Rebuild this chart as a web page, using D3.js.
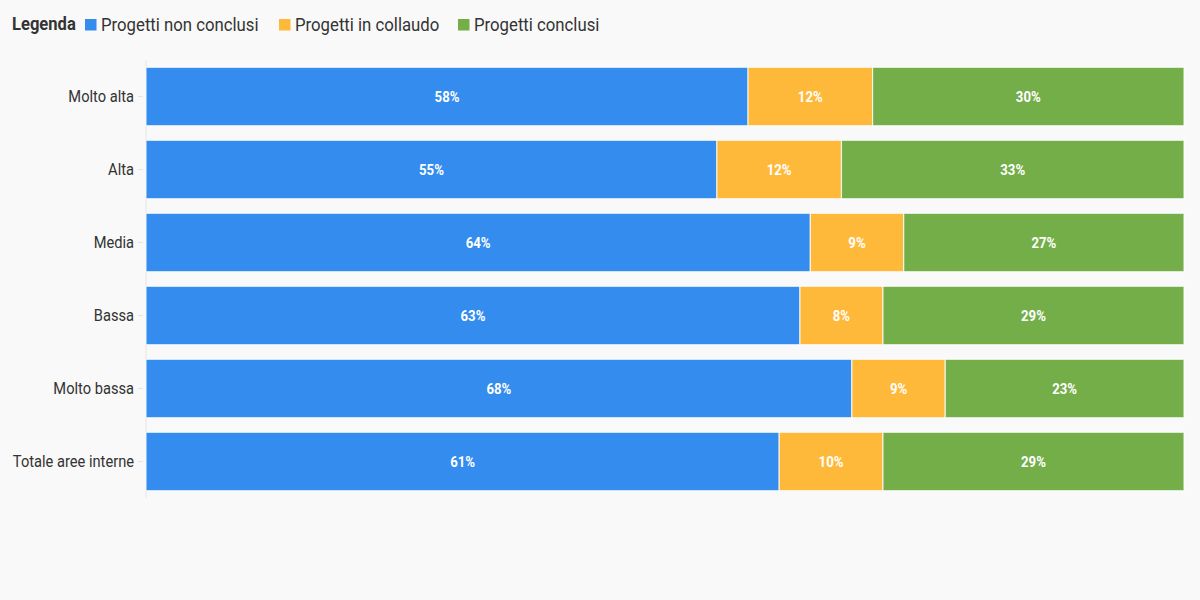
<!DOCTYPE html>
<html>
<head>
<meta charset="utf-8">
<script src="https://cdn.jsdelivr.net/npm/d3@7"></script>
<style>
  html, body { margin: 0; padding: 0; background: #f9f9f9; }
  svg { display: block; font-family: "Roboto", "Liberation Sans Narrow", sans-serif; }
</style>
</head>
<body>
<svg id="chart" width="1200" height="600"></svg>
<script>
const categories = ["Molto alta", "Alta", "Media", "Bassa", "Molto bassa", "Totale aree interne"];
const seriesNames = ["Progetti non conclusi", "Progetti in collaudo", "Progetti conclusi"];
const nonConclusi = [58, 55, 64, 63, 68, 61];
const inCollaudo = [12, 12, 9, 8, 9, 10];
const conclusi = [30, 33, 27, 29, 23, 29];
const colors = ["#338cee", "#ffb93a", "#73ae49"];

const svg = d3.select("#chart");
svg.append("rect").attr("width", 1200).attr("height", 600).attr("fill", "#f9f9f9");

// emulate a condensed face by squeezing glyphs horizontally
function condense(sel, f) {
  sel.each(function () {
    const w = this.getComputedTextLength();
    d3.select(this).attr("textLength", w * f).attr("lengthAdjust", "spacingAndGlyphs");
  });
}

const rows = categories.map((c, i) => ({
  cat: c, s0: nonConclusi[i], s1: inCollaudo[i], s2: conclusi[i]
}));
const stack = d3.stack().keys(["s0", "s1", "s2"])(rows);

const x = d3.scaleLinear().domain([0, 100]).range([146, 1184]);
const y = d3.scaleBand().domain(categories).range([60, 498]).paddingInner(0.2).paddingOuter(0.1);

// y axis
const yAxis = d3.axisLeft(y).tickSize(8).tickPadding(4);
const ga = svg.append("g").attr("transform", "translate(146,0)").call(yAxis);
ga.select(".domain").attr("stroke", "#e6e6e6").attr("d", "M0,60V498");
ga.selectAll(".tick line").attr("stroke", "#e6e6e6").attr("x1", -3).attr("x2", -8);
ga.selectAll(".tick text").attr("fill", "#333").attr("font-size", 16.3).attr("font-family", "Roboto")
  .attr("dy", "0.33em").call(condense, 0.9);

// bars
const layers = svg.append("g").selectAll("g").data(stack).join("g").attr("fill", (d, i) => colors[i]);
layers.selectAll("rect").data(d => d).join("rect")
  .attr("x", d => x(d[0]))
  .attr("y", d => y(d.data.cat))
  .attr("width", d => x(d[1]) - x(d[0]))
  .attr("height", y.bandwidth())
  .attr("stroke", "rgba(255,255,255,0.75)")
  .attr("stroke-width", 1.2);

// labels
const lab = svg.append("g");
stack.forEach(layer => {
  layer.forEach(d => {
    lab.append("text")
      .attr("x", (x(d[0]) + x(d[1])) / 2)
      .attr("y", y(d.data.cat) + y.bandwidth() / 2)
      .attr("dy", "0.36em")
      .attr("text-anchor", "middle")
      .attr("fill", "#fff")
      .attr("font-weight", "bold")
      .attr("font-size", 15)
      .text((d[1] - d[0]) + "%");
  });
});
lab.selectAll("text").call(condense, 0.88);

// legend
const lg = svg.append("g").attr("transform", "translate(12,24)");
lg.append("text").attr("x", 0).attr("dy", "0.35em").attr("font-weight", "bold")
  .attr("font-size", 18.4).attr("fill", "#333").text("Legenda").call(condense, 0.9);
const legendX = [73, 267, 446];
seriesNames.forEach((n, i) => {
  lg.append("rect").attr("x", legendX[i]).attr("y", -5).attr("width", 11.5).attr("height", 11.5).attr("fill", colors[i]);
  lg.append("text").attr("x", legendX[i] + 16).attr("dy", "0.35em").attr("font-size", 18.6)
    .attr("fill", "#333").text(n).call(condense, 0.9);
});
</script>
</body>
</html>
